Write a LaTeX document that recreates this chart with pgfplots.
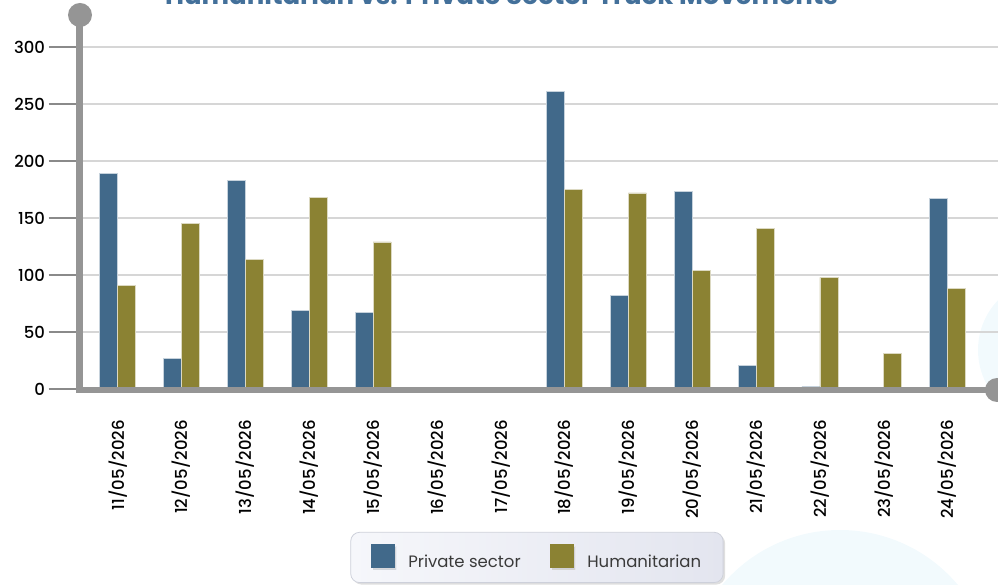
\documentclass[border=0pt]{standalone}
\usepackage{fontspec}
\setmainfont{Poppins}
\newfontfamily\medfont{Poppins Medium}
\usepackage{pgfplots}
\pgfplotsset{compat=1.18}
\usetikzlibrary{shadows}
\definecolor{priv}{HTML}{41698A}
\definecolor{hum}{HTML}{8B8233}
\definecolor{axgray}{HTML}{959595}
\definecolor{gridgray}{HTML}{D6D6D6}
\definecolor{tickgray}{HTML}{8A8A8A}
\definecolor{titleblue}{HTML}{43709A}
\definecolor{legL}{HTML}{F6F7FB}
\definecolor{legR}{HTML}{E3E5EF}
\definecolor{legborder}{HTML}{CDD0DA}
\definecolor{txtgray}{HTML}{3A3A3A}
\definecolor{bgcirc}{HTML}{F2FAFD}
\pgfplotstableread{
x priv hum
0 189 91
1 27 145
2 183 114
3 69 168
4 67 129
5 0 0
6 0 0
7 261 175
8 82 172
9 173 104
10 21 141
11 2 98
12 0 31
13 167 88
}\datatable
\begin{document}
\begin{tikzpicture}[x=1pt,y=1pt]
% decorative background circles (pixel coords relative to axis origin at (79.5,389))
\fill[bgcirc] (840-79.5,389-684) circle (154);
\fill[bgcirc] (1050-79.5,389-350) circle (72);
\begin{axis}[
  scale only axis, width=918.5pt, height=376pt,
  xmin=-0.6, xmax=13.79, ymin=0, ymax=329.8,
  axis line style={draw=none},
  ytick={0,50,...,300},
  ymajorgrids, grid style={gridgray, line width=2pt},
  tick align=outside, major tick length=31pt,
  ytick style={tickgray, line width=2pt},
  xtick={0,...,13},
  xtick style={draw=none},
  xticklabels={11/05/2026,12/05/2026,13/05/2026,14/05/2026,15/05/2026,16/05/2026,17/05/2026,18/05/2026,19/05/2026,20/05/2026,21/05/2026,22/05/2026,23/05/2026,24/05/2026},
  xticklabel style={rotate=90, anchor=east, inner sep=0pt, font=\medfont\fontsize{16.5}{19}\selectfont, text=black},
  yticklabel style={font=\medfont\fontsize{16.5}{19}\selectfont, text=black},
  /pgf/number format/assume math mode=true,
  ybar, bar width=18pt,
  clip=false,
  legend columns=2,
  legend style={at={(0.498,-0.448)}, anchor=center, draw=legborder, line width=0.8pt,
    rounded corners=9pt, left color=legL, right color=legR,
    drop shadow={shadow xshift=2pt, shadow yshift=-2pt, opacity=0.25},
    inner xsep=20pt, inner ysep=12pt,
    font=\fontsize{16.5}{19}\selectfont, text=txtgray,
    /tikz/every even column/.append style={column sep=27pt}},
]
\addplot[fill=priv, draw=white!70!priv, line width=0.6pt, bar shift=-9pt,
  legend image code/.code={\fill[priv, sharp corners] (0pt,-6pt) rectangle (23pt,17pt); \path (35pt,0pt);}]
  table[x=x, y=priv] {\datatable};
\addlegendentry{Private sector}
\addplot[fill=hum, draw=white!70!hum, line width=0.6pt, bar shift=9pt,
  legend image code/.code={\fill[hum, sharp corners] (0pt,-6pt) rectangle (23pt,17pt); \path (35pt,0pt);}]
  table[x=x, y=hum] {\datatable};
\addlegendentry{Humanitarian}
\end{axis}
% axis lines
\draw[axgray, line width=6.6pt] (0,-1) -- (0,374);
\fill[axgray] (0.5,374) circle (12);
\draw[axgray, line width=6.6pt] (-3.3,-1) -- (917.5,-1);
\fill[axgray] (917.5,-1) circle (12);
% title (cut off at the top like the reference)
\node[anchor=base, text=titleblue, font=\fontsize{26}{30}\selectfont\bfseries] at (422,384) {Humanitarian vs. Private Sector Truck Movements};
\pgfresetboundingbox
\path[use as bounding box] (-79.5,-196) rectangle (918.5,389);
\end{tikzpicture}
\end{document}
